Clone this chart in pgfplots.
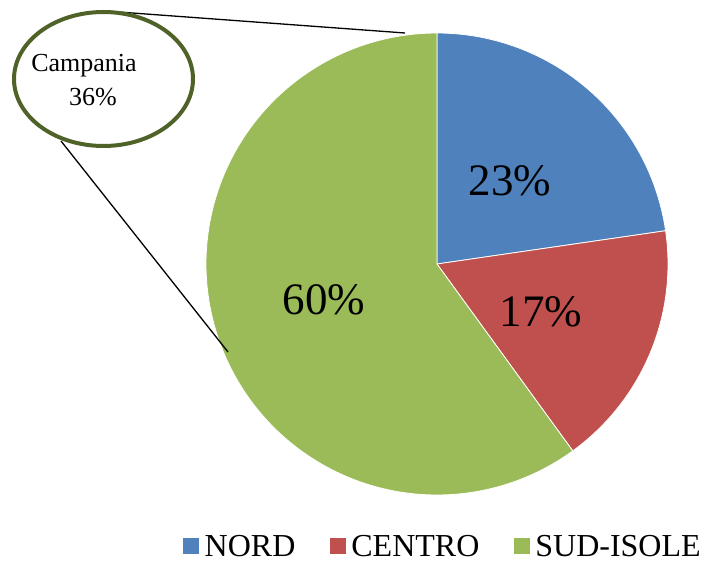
\documentclass[border=0pt]{standalone}
\usepackage{fontspec}
\setmainfont{Liberation Serif}
\usepackage{pgfplots}
\pgfplotsset{compat=1.18}
\definecolor{nord}{HTML}{4F81BD}
\definecolor{centro}{HTML}{C0504D}
\definecolor{sud}{HTML}{9BBB59}
\definecolor{callout}{HTML}{4F6228}
\def\vN{22.7}
\def\vC{17.3}
\def\vS{60.0}
\pgfmathsetmacro{\aA}{90}
\pgfmathsetmacro{\aB}{90-3.6*\vN}
\pgfmathsetmacro{\aC}{\aB-3.6*\vC}
\pgfmathsetmacro{\aD}{\aC-3.6*\vS}
\begin{document}
\begin{tikzpicture}
\begin{axis}[width=705pt,height=563pt,scale only axis,
  xmin=0,xmax=705,ymin=0,ymax=563,hide axis,clip=false,
  legend columns=3,
  legend style={draw=none,fill=none,at={(axis cs:183,17)},anchor=west,
    inner sep=0pt,
    font=\fontsize{32}{35}\selectfont,
    nodes={inner xsep=5.5pt,inner ysep=0pt,text depth=0pt},
    /tikz/every even column/.append style={column sep=29pt}},
  legend image code/.code={\fill[#1,draw=none] (0pt,-8pt) rectangle (16pt,8pt);}]
\addplot[fill=nord,draw=white,line width=0.8pt,domain=\aB:\aA,samples=90] ({437+231*cos(x)},{299+231*sin(x)}) -- (axis cs:437,299) -- cycle;
\addlegendentry{NORD}
\addplot[fill=centro,draw=white,line width=0.8pt,domain=\aC:\aB,samples=90] ({437+231*cos(x)},{299+231*sin(x)}) -- (axis cs:437,299) -- cycle;
\addlegendentry{CENTRO}
\addplot[fill=sud,draw=white,line width=0.8pt,domain=\aD:\aC,samples=180] ({437+231*cos(x)},{299+231*sin(x)}) -- (axis cs:437,299) -- cycle;
\addlegendentry{SUD-ISOLE}
\node[font=\fontsize{45}{50}\selectfont] at (axis cs:510,382) {23\%};
\node[font=\fontsize{45}{50}\selectfont] at (axis cs:541,251) {17\%};
\node[font=\fontsize{45}{50}\selectfont] at (axis cs:324,263) {60\%};
\draw[black,line width=1.3pt] (axis cs:105,552) -- (axis cs:405,530);
\draw[black,line width=1.3pt] (axis cs:61,422) -- (axis cs:228,211);
\draw[callout,line width=4pt,fill=white] (axis cs:103.5,484) ellipse [x radius=89.5, y radius=67];
\node[font=\fontsize{26}{30}\selectfont] at (axis cs:84,497) {Campania};
\node[font=\fontsize{26}{30}\selectfont] at (axis cs:93,466) {36\%};
\end{axis}
\pgfresetboundingbox
\path (current axis.south west) rectangle (current axis.north east);
\end{tikzpicture}
\end{document}
